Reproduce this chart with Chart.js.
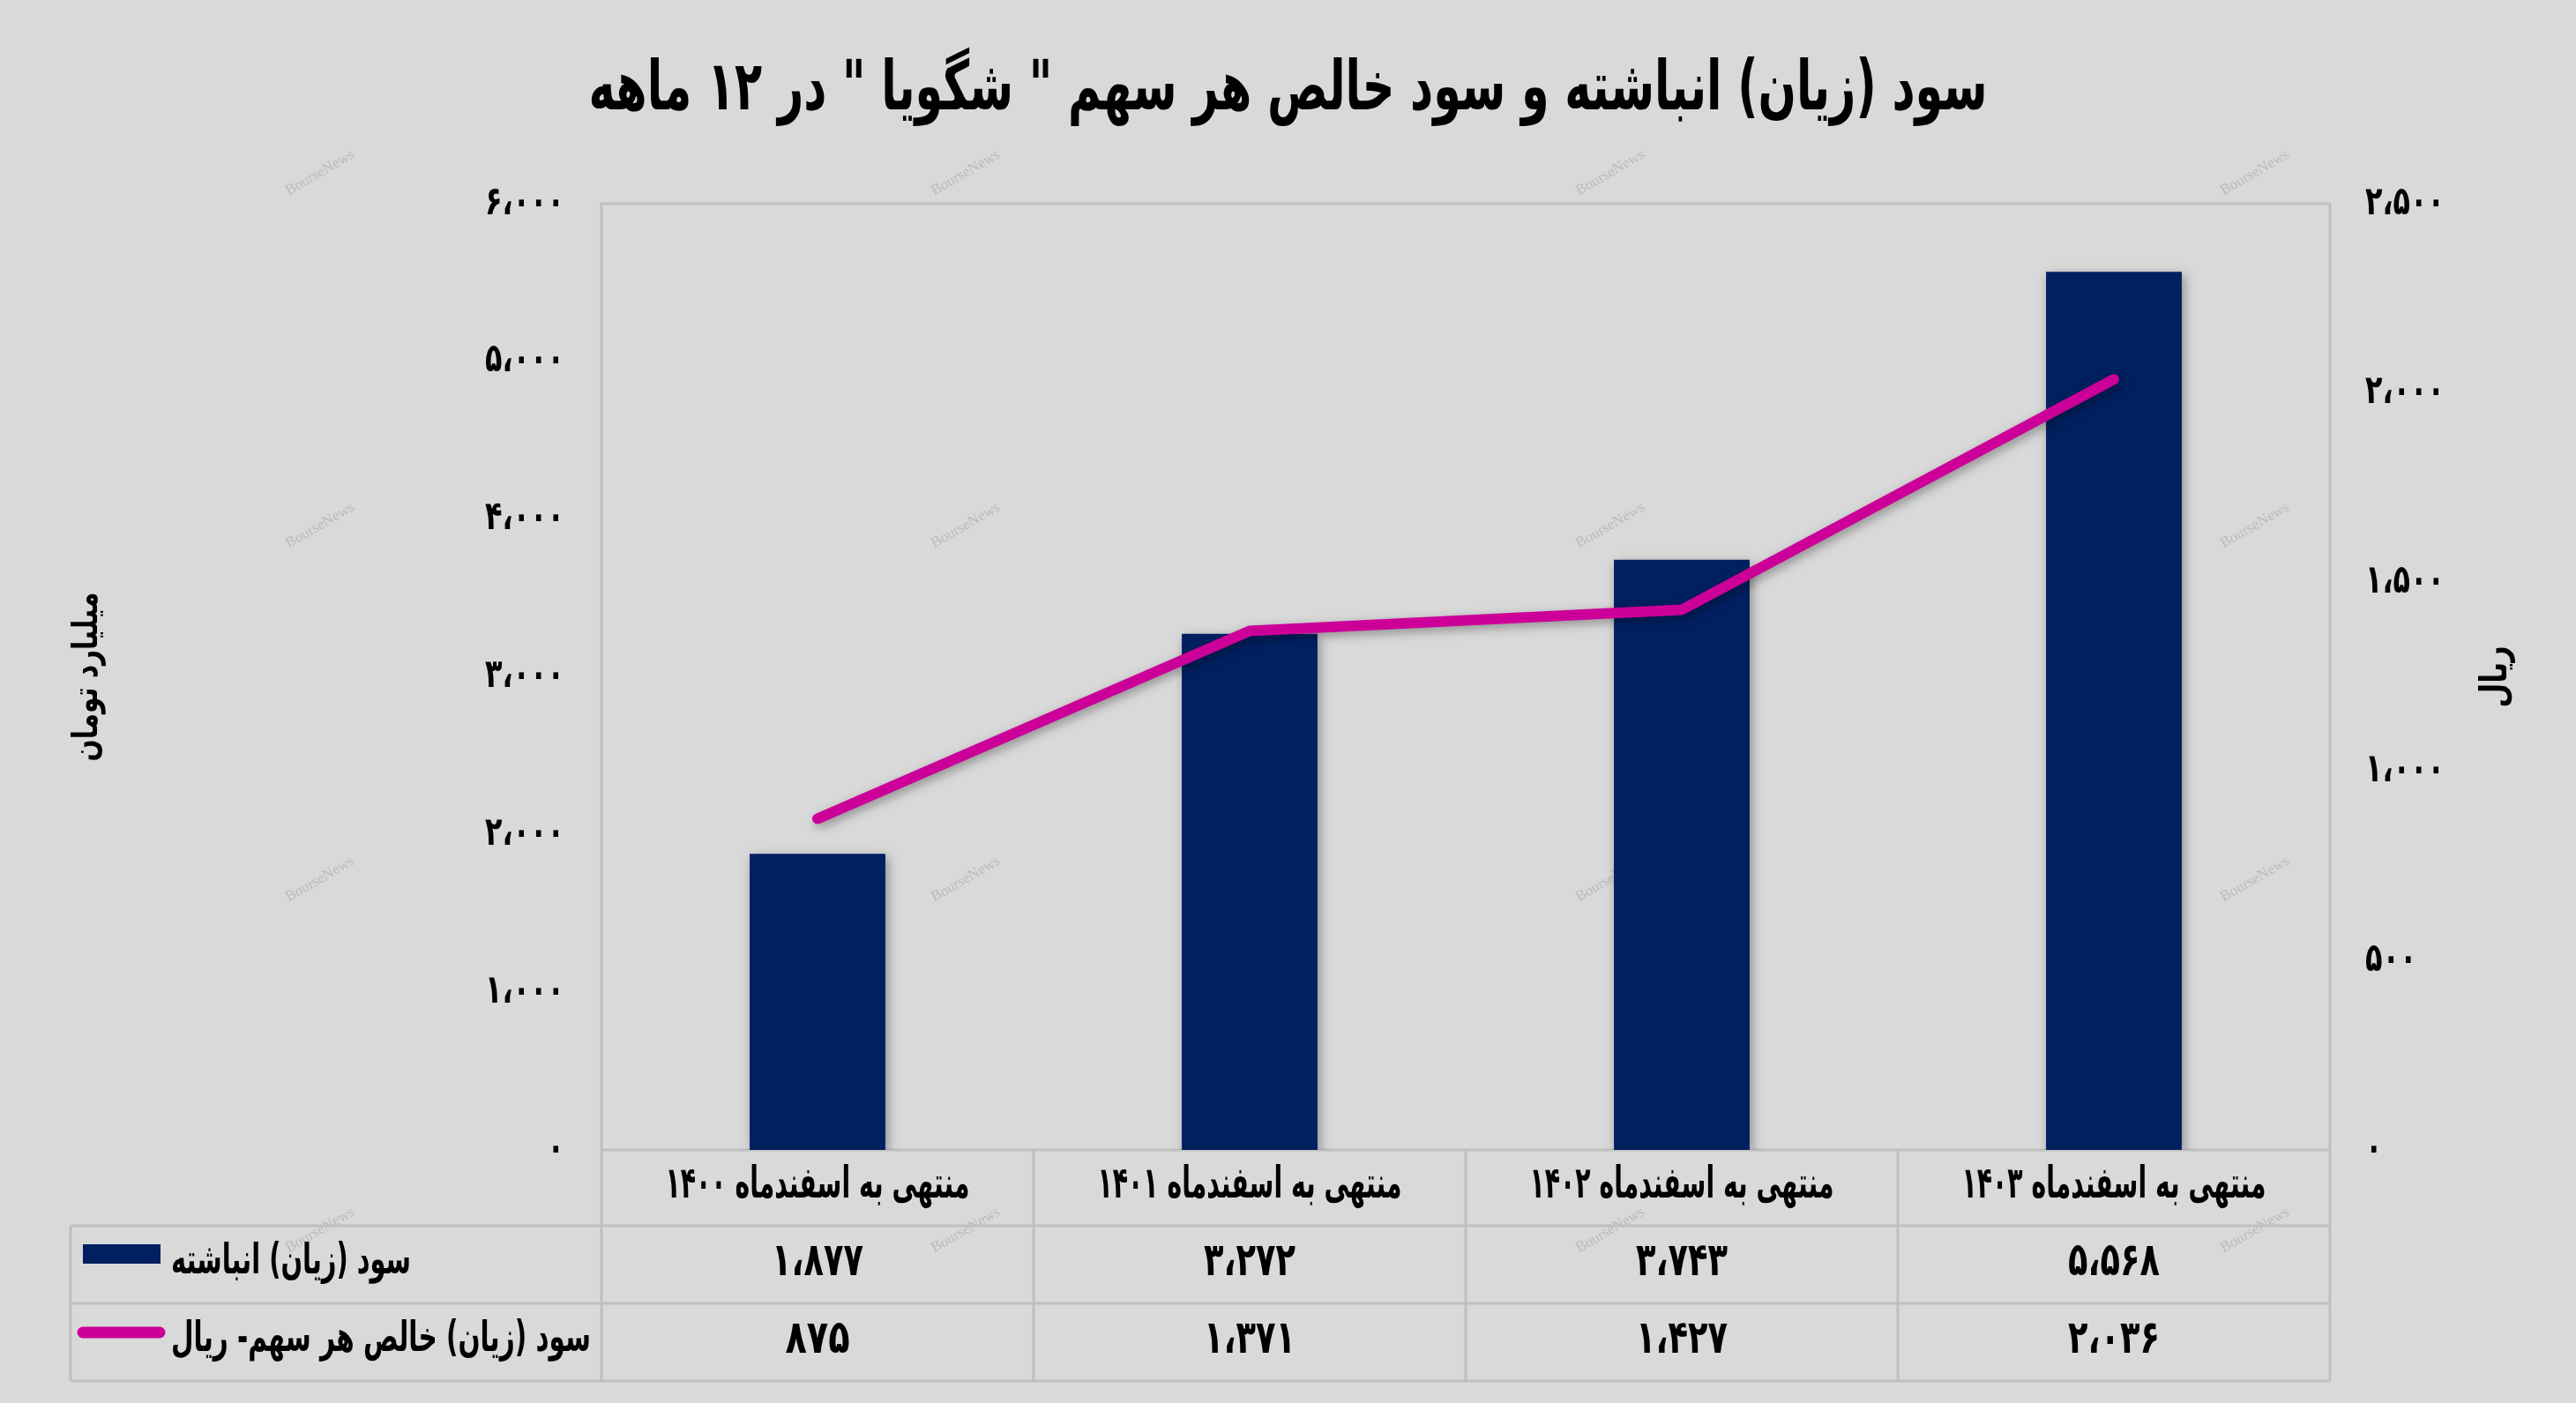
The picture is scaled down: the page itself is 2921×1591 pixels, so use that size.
<!DOCTYPE html>
<html>
<head>
<meta charset="utf-8">
<script src="https://cdn.jsdelivr.net/npm/chart.js@4"></script>
<style>
  html, body { margin: 0; padding: 0; background: #D9D9D9; }
  canvas { display: block; }
</style>
</head>
<body>
<canvas id="chart" width="2921" height="1591"></canvas>
<script>
// chart data
const titleText = 'سود (زیان) انباشته و سود خالص هر سهم " شگویا " در ۱۲ ماهه';
const categories = ['منتهی به اسفندماه ۱۴۰۰', 'منتهی به اسفندماه ۱۴۰۱', 'منتهی به اسفندماه ۱۴۰۲', 'منتهی به اسفندماه ۱۴۰۳'];
const seriesNames = ['سود (زیان) انباشته', 'سود (زیان) خالص هر سهم- ریال'];
const retainedEarnings = [1877, 3272, 3743, 5568];
const epsRial = [875, 1371, 1427, 2036];
const leftTicks = [0, 1000, 2000, 3000, 4000, 5000, 6000];
const rightTicks = [0, 500, 1000, 1500, 2000, 2500];
const leftAxisTitle = 'میلیارد تومان';
const rightAxisTitle = 'ریال';

const NAVY = '#002060';
const MAGENTA = '#CC0099';
const GRID = '#BFBFBF';
const FONT = '"DejaVu Sans", sans-serif';

// persian digits with arabic comma
function fa(n) {
  return n.toLocaleString('en-US')
    .replace(/\d/g, d => '۰۱۲۳۴۵۶۷۸۹'[d])
    .replace(/,/g, '،');
}

// bold text, squeezed to maxW and stretched tall like the original font
function rtlText(ctx, text, x, y, size, maxW, align, stretch, rot) {
  ctx.save();
  ctx.translate(x, y);
  if (rot) ctx.rotate(rot);
  ctx.scale(1, stretch || 1);
  ctx.direction = 'rtl';
  ctx.font = 'bold ' + size + 'px ' + FONT;
  ctx.fillStyle = '#000';
  ctx.textAlign = align || 'center';
  ctx.textBaseline = 'middle';
  const w = ctx.measureText(text).width;
  if (maxW && w > maxW) ctx.fillText(text, 0, 0, maxW);
  else ctx.fillText(text, 0, 0);
  ctx.restore();
}

// watermark, frame, axis labels, table and title
const decorPlugin = {
  id: 'decor',
  beforeDatasetsDraw(chart) {
    const ctx = chart.ctx;
    const a = chart.chartArea;
    ctx.save();
    ctx.font = '17px "Liberation Serif", serif';
    ctx.fillStyle = 'rgba(150,150,150,0.45)';
    ctx.textAlign = 'center';
    ctx.textBaseline = 'middle';
    [363, 1095, 1826, 2557].forEach(x => {
      [196, 596, 997, 1395].forEach(y => {
        ctx.save();
        ctx.translate(x, y);
        ctx.rotate(-Math.PI / 6);
        ctx.fillText('BourseNews', 0, 0);
        ctx.restore();
      });
    });
    ctx.strokeStyle = GRID;
    ctx.lineWidth = 3;
    ctx.strokeRect(a.left, a.top, a.right - a.left, a.bottom - a.top);
    ctx.restore();
  },
  beforeDatasetDraw(chart) {
    const ctx = chart.ctx;
    ctx.save();
    ctx.shadowColor = 'rgba(0,0,0,0.35)';
    ctx.shadowBlur = 12;
    ctx.shadowOffsetX = 3;
    ctx.shadowOffsetY = 4;
  },
  afterDatasetDraw(chart) {
    chart.ctx.restore();
  },
  afterDraw(chart) {
    const ctx = chart.ctx;
    const a = chart.chartArea;
    const xs = chart.scales.x;
    const yl = chart.scales.yL;
    const yr = chart.scales.yR;
    const tableLeft = 80;
    const rows = [a.bottom, 1390, 1478, 1566];
    const colW = (a.right - a.left) / categories.length;

    // axis tick labels
    leftTicks.forEach(v => {
      rtlText(ctx, fa(v), a.left - 42, yl.getPixelForValue(v), 32, 90, 'right', 1.4);
    });
    rightTicks.forEach(v => {
      rtlText(ctx, fa(v), a.right + 40, yr.getPixelForValue(v), 32, 90, 'left', 1.4);
    });
    const midY = (a.top + a.bottom) / 2;
    rtlText(ctx, leftAxisTitle, 100, midY, 30, 192, 'center', 1.3, -Math.PI / 2);
    rtlText(ctx, rightAxisTitle, 2831, midY, 32, 72, 'center', 1.3, -Math.PI / 2);

    ctx.save();
    ctx.strokeStyle = GRID;
    ctx.lineWidth = 3;
    ctx.beginPath();
    for (let i = 1; i < rows.length; i++) {
      ctx.moveTo(tableLeft, rows[i]);
      ctx.lineTo(a.right, rows[i]);
    }
    ctx.moveTo(tableLeft, rows[1]);
    ctx.lineTo(tableLeft, rows[3]);
    for (let k = 0; k <= categories.length; k++) {
      const x = a.left + colW * k;
      ctx.moveTo(x, rows[0]);
      ctx.lineTo(x, rows[3]);
    }
    ctx.stroke();

    // legend keys
    ctx.fillStyle = NAVY;
    ctx.fillRect(94, 1411, 88, 22);
    ctx.strokeStyle = MAGENTA;
    ctx.lineWidth = 13;
    ctx.lineCap = 'round';
    ctx.beginPath();
    ctx.moveTo(94, 1511);
    ctx.lineTo(181, 1511);
    ctx.stroke();
    ctx.restore();

    rtlText(ctx, seriesNames[0], 194, 1432, 38, 272, 'left', 1.25);
    rtlText(ctx, seriesNames[1], 194, 1520, 38, 476, 'left', 1.25);

    categories.forEach((c, i) => {
      const cx = xs.getPixelForValue(i);
      rtlText(ctx, c, cx, 1345, 38, 345, 'center', 1.3);
      rtlText(ctx, fa(retainedEarnings[i]), cx, 1432, 40, 104, 'center', 1.3);
      rtlText(ctx, fa(epsRial[i]), cx, 1520, 40, 104, 'center', 1.3);
    });

    rtlText(ctx, titleText, chart.width / 2, 104, 62, 1586, 'center', 1.25);
  }
};

new Chart(document.getElementById('chart'), {
  data: {
    labels: categories,
    datasets: [
      {
        type: 'line',
        label: seriesNames[1],
        data: epsRial,
        yAxisID: 'yR',
        borderColor: MAGENTA,
        backgroundColor: MAGENTA,
        borderWidth: 12,
        borderCapStyle: 'round',
        borderJoinStyle: 'round',
        pointRadius: 0,
        tension: 0,
        order: 0
      },
      {
        type: 'bar',
        label: seriesNames[0],
        data: retainedEarnings,
        yAxisID: 'yL',
        backgroundColor: NAVY,
        barPercentage: 1,
        categoryPercentage: 0.314,
        order: 1
      }
    ]
  },
  options: {
    responsive: false,
    devicePixelRatio: 1,
    animation: false,
    layout: { padding: { top: 231, left: 0, right: 0, bottom: 0 } },
    plugins: {
      legend: { display: false },
      tooltip: { enabled: false },
      title: { display: false }
    },
    scales: {
      x: {
        grid: { display: false },
        border: { display: false },
        ticks: { display: false },
        afterFit: s => { s.height = 287; }
      },
      yL: {
        position: 'left',
        min: leftTicks[0],
        max: leftTicks[leftTicks.length - 1],
        grid: { display: false },
        border: { display: false },
        ticks: { display: false, stepSize: 1000 },
        afterFit: s => { s.width = 682; }
      },
      yR: {
        position: 'right',
        min: rightTicks[0],
        max: rightTicks[rightTicks.length - 1],
        grid: { display: false },
        border: { display: false },
        ticks: { display: false, stepSize: 500 },
        afterFit: s => { s.width = 279; }
      }
    }
  },
  plugins: [decorPlugin]
});
</script>
</body>
</html>
